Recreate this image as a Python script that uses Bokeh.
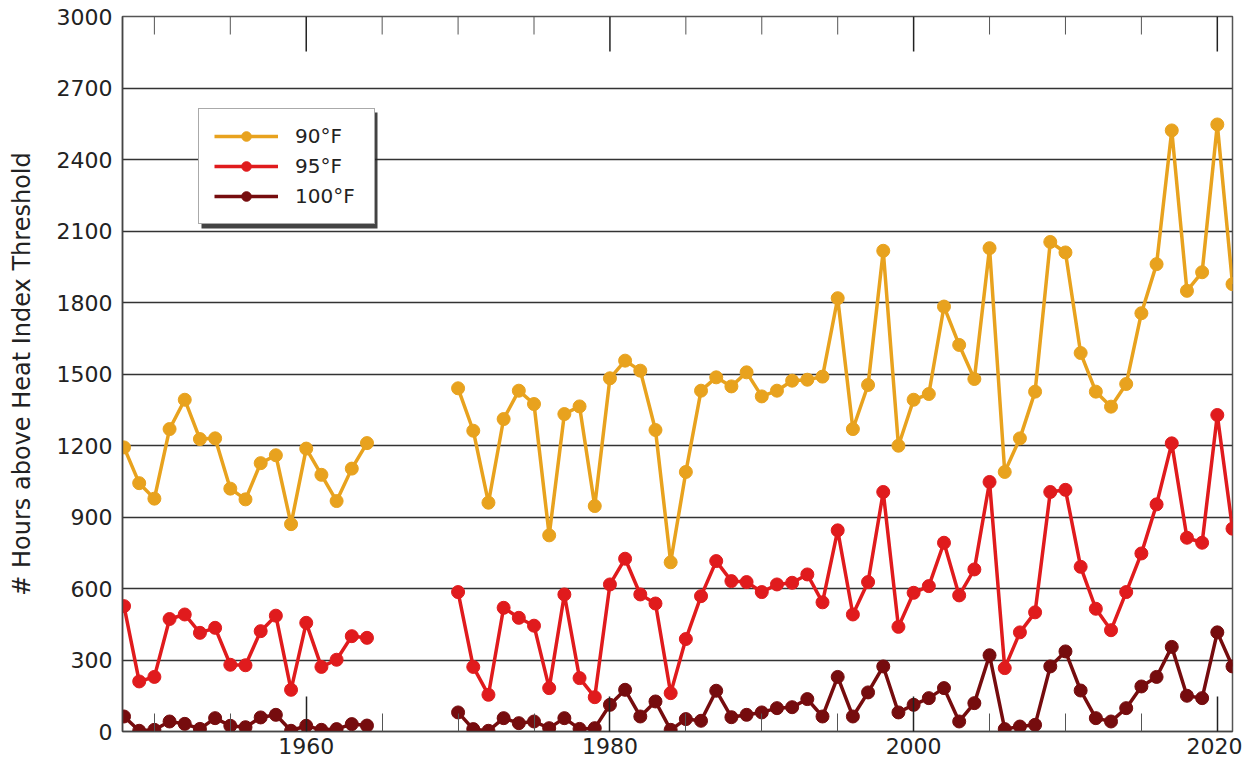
import numpy as np
from bokeh.plotting import figure
from bokeh.models import (ColumnDataSource, FixedTicker, Legend,
                          LegendItem, Range1d, BoxAnnotation)
from bokeh.embed import file_html
from bokeh.resources import INLINE

nan = np.nan
years = list(range(1948, 2022))

hours_90 = [1192, 1042, 977, 1269, 1392, 1227, 1230, 1019, 974, 1126, 1159, 870, 1187, 1077, 967, 1103, 1210,
            nan, nan, nan, nan, nan,
            1440, 1262, 960, 1311, 1430, 1374, 823, 1332, 1364, 946,
            1482, 1556, 1514, 1265, 710, 1089, 1430, 1486, 1448, 1507,
            1406, 1430, 1472, 1476, 1489, 1818, 1269, 1454, 2017, 1199,
            1392, 1416, 1783, 1622, 1479, 2028, 1089, 1230, 1426, 2054,
            2010, 1588, 1426, 1363, 1458, 1755, 1961, 2522, 1849, 1927,
            2547, 1877]

hours_95 = [526, 210, 229, 472, 491, 414, 435, 280, 278, 421, 486, 175, 456, 271, 301, 400, 393,
            nan, nan, nan, nan, nan,
            585, 271, 154, 519, 477, 444, 182, 575, 224, 144,
            617, 725, 575, 537, 161, 388, 568, 715, 631, 627,
            585, 617, 624, 659, 542, 844, 491, 627, 1005, 439,
            582, 610, 792, 571, 680, 1047, 266, 416, 500, 1005,
            1014, 691, 515, 425, 585, 747, 953, 1209, 813, 792,
            1328, 851]

hours_100 = [63, 3, 7, 42, 32, 11, 56, 24, 18, 59, 70, 3, 24, 7, 10, 31, 25,
             nan, nan, nan, nan, nan,
             80, 10, 3, 56, 35, 42, 14, 56, 11, 14,
             112, 175, 63, 126, 7, 52, 45, 171, 60, 70,
             80, 98, 102, 136, 63, 229, 63, 164, 273, 80,
             112, 140, 182, 42, 119, 320, 10, 21, 28, 273,
             336, 172, 56, 42, 98, 189, 229, 355, 150, 140,
             416, 273]

series_labels = ["90°F", "95°F", "100°F"]
series_colors = ["#E8A21E", "#E01B1D", "#760C0E"]

x_major = [1960, 1980, 2000, 2020]
x_minor = [1950, 1955, 1965, 1970, 1975, 1985, 1990, 1995, 2005, 2010, 2015]
y_ticks = list(range(0, 3001, 300))

FONT = "DejaVu Sans"
X_START, X_END = 1947.9, 2021.0
Y_MAX = 3000
FRAME_W, FRAME_H = 1110, 715

src = ColumnDataSource(dict(year=np.array(years, dtype=float),
                            h90=np.array(hours_90, dtype=float),
                            h95=np.array(hours_95, dtype=float),
                            h100=np.array(hours_100, dtype=float)))

p = figure(frame_width=FRAME_W, frame_height=FRAME_H,
           x_range=Range1d(X_START, X_END), y_range=Range1d(0, Y_MAX),
           output_backend="svg", toolbar_location=None,
           min_border_left=122, min_border_right=10, min_border_top=16, min_border_bottom=30)

p.background_fill_color = "white"
p.border_fill_color = "white"
p.outline_line_color = "#555555"
p.outline_line_width = 1.5

xticker = FixedTicker(ticks=x_major, minor_ticks=x_minor)
yticker = FixedTicker(ticks=y_ticks)

p.xaxis.ticker = xticker
p.yaxis.ticker = yticker
p.xgrid.visible = False
p.ygrid.ticker = yticker
p.ygrid.grid_line_color = "#333333"
p.ygrid.grid_line_width = 1.3

ax = p.xaxis[0]
ax.major_tick_in = 35
ax.major_tick_out = 0
ax.minor_tick_in = 18
ax.minor_tick_out = 0
ax.major_tick_line_color = "#222222"
ax.major_tick_line_width = 1.5
ax.minor_tick_line_color = "#555555"
ax.axis_line_color = "#444444"
ax.axis_line_width = 1.5
ax.major_label_text_font = FONT
ax.major_label_text_font_size = "22px"
ax.major_label_text_color = "#222222"
ax.major_label_standoff = 6

p.yaxis.major_tick_in = 0
p.yaxis.major_tick_out = 0
p.yaxis.minor_tick_in = 0
p.yaxis.minor_tick_out = 0
p.yaxis.axis_line_color = "#444444"
p.yaxis.axis_line_width = 1.5
p.yaxis.major_label_text_font = FONT
p.yaxis.major_label_text_font_size = "22px"
p.yaxis.major_label_text_color = "#222222"
p.yaxis.major_label_standoff = 10
p.yaxis.axis_label = "# Hours above Heat Index Threshold"
p.yaxis.axis_label_text_font = FONT
p.yaxis.axis_label_text_font_size = "24px"
p.yaxis.axis_label_text_font_style = "normal"
p.yaxis.axis_label_text_color = "#222222"
p.yaxis.axis_label_standoff = 18

# inward tick marks along the top edge, placed at the same tick years
px_to_y = Y_MAX / FRAME_H
p.segment(x0=x_major, x1=x_major, y0=[Y_MAX] * len(x_major),
          y1=[Y_MAX - 35 * px_to_y] * len(x_major), line_color="#222222", line_width=1.5)
p.segment(x0=x_minor, x1=x_minor, y0=[Y_MAX] * len(x_minor),
          y1=[Y_MAX - 18 * px_to_y] * len(x_minor), line_color="#555555", line_width=1)

# legend shadow (screen units relative to the frame, y from the bottom)
shadow = BoxAnnotation(left=79, right=255, top=619, bottom=503,
                       left_units="screen", right_units="screen",
                       top_units="screen", bottom_units="screen",
                       fill_color="#222222", fill_alpha=0.85, line_color=None)
p.add_layout(shadow)

items = []
cols = ["h90", "h95", "h100"]
for col, lab, colr in zip(cols, series_labels, series_colors):
    ln = p.line("year", col, source=src, line_color=colr, line_width=3.5)
    sc = p.scatter("year", col, source=src, size=13, fill_color=colr, line_color=colr)
    items.append(LegendItem(label=lab, renderers=[ln, sc]))

legend = Legend(items=items, location=(76, 507), margin=0, padding=15,
                spacing=6, glyph_width=64, glyph_height=24, label_height=24,
                label_width=64, label_standoff=17,
                label_text_font=FONT, label_text_font_size="20px",
                label_text_color="#222222",
                border_line_color="#555555", border_line_width=1,
                background_fill_color="white", background_fill_alpha=1.0)
p.add_layout(legend)

open("out.html", "w").write(file_html(p, INLINE))
